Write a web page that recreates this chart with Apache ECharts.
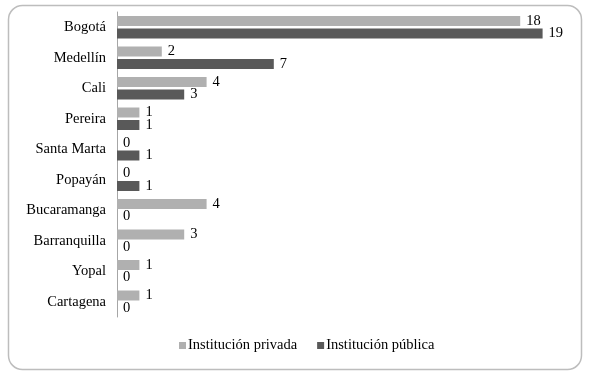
<!DOCTYPE html>
<html>
<head>
<meta charset="utf-8">
<script src="https://cdn.jsdelivr.net/npm/echarts@6/dist/echarts.min.js"></script>
<style>
  html, body { margin: 0; padding: 0; background: #fff; }
  #chart { width: 589px; height: 375px; }
</style>
</head>
<body>
<div id="chart"></div>
<script>
var ciudades = ['Bogotá', 'Medellín', 'Cali', 'Pereira', 'Santa Marta', 'Popayán',
    'Bucaramanga', 'Barranquilla', 'Yopal', 'Cartagena'];
var seriesNames = ['Institución privada', 'Institución pública'];
var privada = [18, 2, 4, 1, 0, 0, 4, 3, 1, 1];
var publica = [19, 7, 3, 1, 1, 1, 0, 0, 0, 0];

var fuente = '"Liberation Serif", "DejaVu Serif", serif';

var myChart = echarts.init(document.getElementById('chart'));

var option = {
    animation: false,
    backgroundColor: '#fff',
    graphic: [{
        type: 'rect',
        shape: { x: 8.5, y: 5.5, width: 573, height: 364, r: 14 },
        style: { fill: 'none', stroke: '#bdbdbd', lineWidth: 1.5 },
        silent: true
    }],
    grid: { left: 117, right: 24, top: 12, bottom: 58 },
    legend: {
        bottom: 17,
        left: 174,
        icon: 'rect',
        itemWidth: 7,
        itemHeight: 7,
        itemGap: 20,
        selectedMode: false,
        textStyle: { fontFamily: fuente, fontSize: 14.5, color: '#000', padding: [0, 0, 0, -3] },
        data: seriesNames
    },
    xAxis: {
        type: 'value',
        min: 0,
        max: 20,
        show: false
    },
    yAxis: {
        type: 'category',
        inverse: true,
        data: ciudades,
        axisLine: { lineStyle: { color: '#a6a6a6', width: 1 } },
        axisTick: { show: false },
        axisLabel: { fontFamily: fuente, fontSize: 14.5, color: '#000', margin: 11 }
    },
    series: [
        {
            name: seriesNames[0],
            type: 'bar',
            data: privada,
            barWidth: 10,
            barGap: '25%',
            itemStyle: { color: '#b0b0b0' },
            label: { show: true, position: 'right', distance: 6, fontFamily: fuente, fontSize: 14.5, color: '#000' }
        },
        {
            name: seriesNames[1],
            type: 'bar',
            data: publica,
            barWidth: 10,
            barGap: '25%',
            itemStyle: { color: '#595959' },
            label: { show: true, position: 'right', distance: 6, fontFamily: fuente, fontSize: 14.5, color: '#000' }
        }
    ]
};

myChart.setOption(option);
</script>
</body>
</html>
